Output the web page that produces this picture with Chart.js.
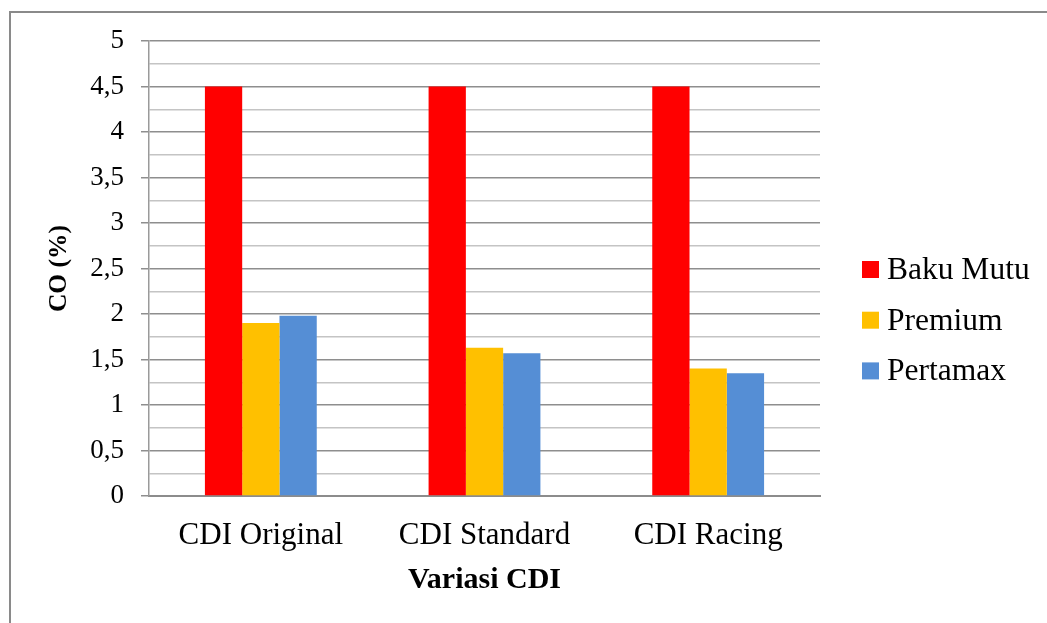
<!DOCTYPE html>
<html>
<head>
<meta charset="utf-8">
<script src="https://cdn.jsdelivr.net/npm/chart.js@4.4.1/dist/chart.umd.min.js"></script>
<style>
  html, body { margin: 0; padding: 0; background: #fff; overflow: hidden; }
  #frame {
    position: absolute; left: 9px; top: 11px;
    width: 1100px; height: 700px;
    border: 2px solid #8a8a8a;
  }
  #coChart { position: absolute; left: 0; top: 0; }
</style>
</head>
<body>
<div id="frame"></div>
<canvas id="coChart" width="1047" height="623"></canvas>
<script>
// CO emission per CDI variant
const categories = ["CDI Original", "CDI Standard", "CDI Racing"];
const seriesNames = ["Baku Mutu", "Premium", "Pertamax"];
const bakuMutu = [4.5, 4.5, 4.5];
const premium = [1.90, 1.63, 1.40];
const pertamax = [1.98, 1.57, 1.35];
const seriesColors = ["#ff0000", "#ffc000", "#558ed5"];

const SERIF = "'Liberation Serif', 'Times New Roman', serif";

function isMajor(v) {
    return Math.abs(v * 2 - Math.round(v * 2)) < 1e-9;
}

// legend drawn at a fixed spot to the right of the plot
const sideLegend = {
    id: "sideLegend",
    afterDraw(chart, args, opts) {
        const ctx = chart.ctx;
        ctx.save();
        ctx.font = opts.fontSize + "px " + SERIF;
        ctx.textAlign = "left";
        ctx.textBaseline = "alphabetic";
        chart.data.datasets.forEach((ds, i) => {
            const cy = opts.top + i * opts.step;
            ctx.fillStyle = ds.backgroundColor;
            ctx.fillRect(opts.x, cy - opts.box / 2, opts.box, opts.box);
            ctx.fillStyle = "#000";
            ctx.fillText(ds.label, opts.x + opts.box + 8, cy + 9.5);
        });
        ctx.restore();
    }
};

new Chart(document.getElementById("coChart"), {
    type: "bar",
    data: {
        labels: categories,
        datasets: [
            {label: seriesNames[0], data: bakuMutu, backgroundColor: seriesColors[0]},
            {label: seriesNames[1], data: premium, backgroundColor: seriesColors[1]},
            {label: seriesNames[2], data: pertamax, backgroundColor: seriesColors[2]}
        ]
    },
    options: {
        responsive: false,
        animation: false,
        categoryPercentage: 0.5,
        barPercentage: 1.0,
        layout: {padding: {left: 0, right: 227, top: 41, bottom: 0}},
        plugins: {
            legend: {display: false},
            tooltip: {enabled: false},
            sideLegend: {x: 862, top: 269.5, step: 50.7, box: 17, fontSize: 31.5}
        },
        scales: {
            x: {
                grid: {display: false, drawTicks: false},
                border: {display: true, color: "#8c8c8c", width: 2},
                ticks: {
                    color: "#000",
                    padding: 21,
                    font: {family: SERIF, size: 31}
                },
                title: {
                    display: true,
                    text: "Variasi CDI",
                    color: "#000",
                    font: {family: SERIF, size: 30, weight: "bold"},
                    padding: {top: 0, bottom: 25}
                },
                afterFit(scale) { scale.height = 127; }
            },
            y: {
                min: 0,
                max: 5,
                grid: {
                    lineWidth: 1.5,
                    tickLength: 8,
                    color: c => isMajor(c.tick.value) ? "#8e8e8e" : "#c4c4c4",
                    tickColor: c => isMajor(c.tick.value) ? "#8e8e8e" : "rgba(0,0,0,0)"
                },
                border: {display: true, color: "#9a9a9a", width: 1.5},
                ticks: {
                    stepSize: 0.25,
                    autoSkip: false,
                    color: "#000",
                    padding: 17,
                    font: {family: SERIF, size: 27},
                    callback: v => isMajor(v) ? String(v).replace(".", ",") : ""
                },
                title: {
                    display: true,
                    text: "CO (%)",
                    color: "#000",
                    font: {family: SERIF, size: 25.5, weight: "bold"},
                    padding: {top: 44, bottom: 0}
                },
                afterFit(scale) { scale.width = 149; }
            }
        }
    },
    plugins: [sideLegend]
});
</script>
</body>
</html>
